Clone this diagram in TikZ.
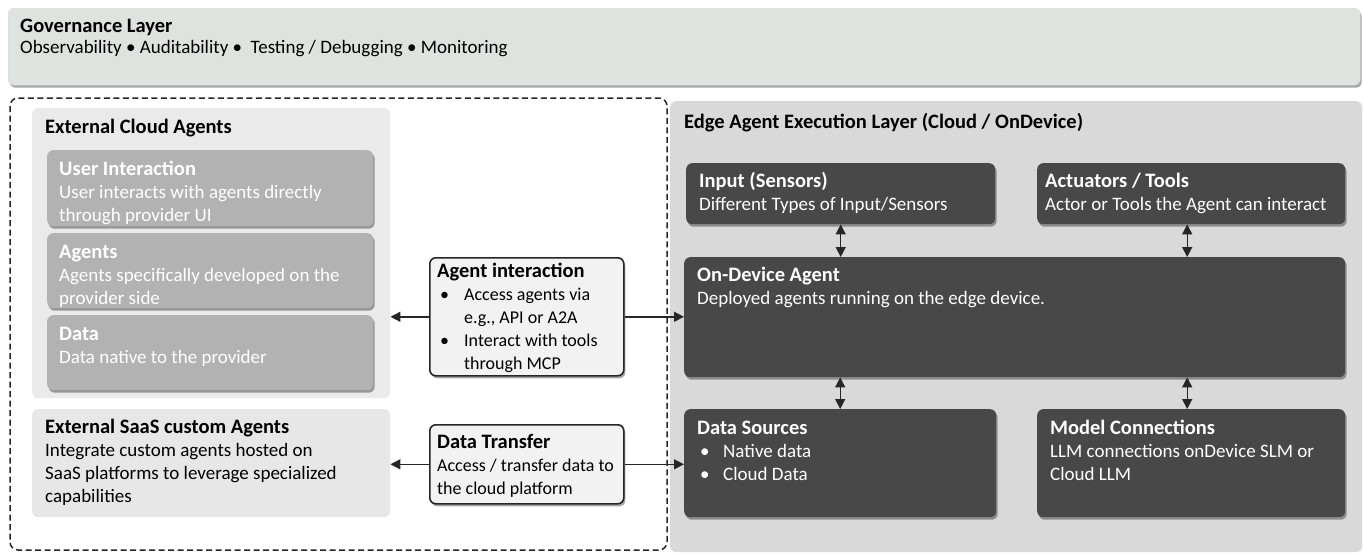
\documentclass[tikz,border=0pt]{standalone}
\usepackage{fontspec}
\setmainfont{Carlito}
\usetikzlibrary{shadows,arrows.meta,positioning}

\definecolor{govfill}{RGB}{223,227,223}
\definecolor{cloudfill}{RGB}{234,234,234}
\definecolor{innerfill}{RGB}{178,178,178}
\definecolor{saasfill}{RGB}{231,231,231}
\definecolor{edgefill}{RGB}{217,217,217}
\definecolor{darkfill}{RGB}{72,72,72}
\definecolor{callfill}{RGB}{242,242,242}
\definecolor{linecol}{RGB}{38,38,38}

\newcommand\boxfont{\fontsize{19}{23}\selectfont}
\newcommand\govfont{\fontsize{19}{21}\selectfont}
\newcommand\calfont{\fontsize{18}{23}\selectfont}
\newcommand\ttl[1]{{\fontsize{20.5}{23}\selectfont\textbf{#1}}}

\tikzset{
  panel/.style={rounded corners=6pt, anchor=north west, inner sep=0pt},
  softshadow/.style={drop shadow={shadow xshift=1.5pt, shadow yshift=-2.5pt, opacity=0.35, fill=black}},
  lightbox/.style={panel, fill=innerfill, softshadow},
  darkbox/.style={panel, fill=darkfill, softshadow},
  callout/.style={panel, fill=callfill, draw=linecol, line width=1.6pt, softshadow},
  txt/.style={anchor=north west, align=left, inner sep=0pt, font=\boxfont, text=black},
  wtxt/.style={txt, text=white},
  oneway/.style={-{Triangle[length=10pt,width=10pt]}, line width=1.4pt, draw=linecol},
  twoway/.style={{Triangle[length=10pt,width=10pt]}-{Triangle[length=10pt,width=10pt]}, line width=1.4pt, draw=linecol},
}

\begin{document}
\begin{tikzpicture}[x=1pt, y=-1pt]

    \useasboundingbox (0,0) rectangle (1363,554);

    % Governance layer
    \node[panel, fill=govfill, draw=black!15, softshadow, minimum width=1352, minimum height=77] (gov) at (8,8) {};
    \node[txt, font=\govfont] (govtxt) at ([shift={(12,10)}]gov.north west)
        {\strut\ttl{Governance Layer}\\Observability • Auditability •\ \ Testing / Debugging • Monitoring};

    % Outer dashed frame round the external side
    \draw[line width=1.5pt, dash pattern=on 6pt off 3.5pt, rounded corners=8pt, linecol] (10,98) rectangle (667,550);

    % External cloud agents
    \node[panel, fill=cloudfill, minimum width=358, minimum height=290] (cloud) at (32,108) {};
    \node[txt] (cloudtxt) at ([shift={(13,9)}]cloud.north west) {\strut\ttl{External Cloud Agents}};

    \node[lightbox, minimum width=326, minimum height=76] (userint) at (47,150) {};
    \node[wtxt] (userinttxt) at ([shift={(12,9)}]userint.north west)
        {\strut\ttl{User Interaction}\\User interacts with agents directly\\through provider UI};

    \node[lightbox, minimum width=326, minimum height=75] (agents) at (47,233) {};
    \node[wtxt] (agentstxt) at ([shift={(12,9)}]agents.north west)
        {\strut\ttl{Agents}\\Agents specifically developed on the\\provider side};

    \node[lightbox, minimum width=326, minimum height=75] (data) at (47,315) {};
    \node[wtxt] (datatxt) at ([shift={(12,9)}]data.north west)
        {\strut\ttl{Data}\\Data native to the provider};

    % External SaaS agents
    \node[panel, fill=saasfill, minimum width=358, minimum height=108] (saas) at (32,409) {};
    \node[txt] (saastxt) at ([shift={(13,8)}]saas.north west)
        {\strut\ttl{External SaaS custom Agents}\\Integrate custom agents hosted on\\SaaS platforms to leverage specialized\\capabilities};

    % Call-outs between the two sides
    \node[callout, minimum width=194, minimum height=118] (agentint) at (429,257) {};
    \node[txt, font=\calfont] (agentinttxt) at ([shift={(8,4)}]agentint.north west)
        {\strut\ttl{Agent interaction}\\
         \hspace*{3pt}\makebox[24pt][l]{•}Access agents via\\
         \hspace*{27pt}e.g., API or A2A\\
         \hspace*{3pt}\makebox[24pt][l]{•}Interact with tools\\
         \hspace*{27pt}through MCP};

    \node[callout, minimum width=194, minimum height=79] (datatr) at (429,424) {};
    \node[txt, font=\calfont] (datatrtxt) at ([shift={(8,8)}]datatr.north west)
        {\strut\ttl{Data Transfer}\\Access / transfer data to\\the cloud platform};

    % Edge agent execution layer
    \node[panel, fill=edgefill, minimum width=692, minimum height=451] (edge) at (670,101) {};
    \node[txt] (edgetxt) at ([shift={(14,11)}]edge.north west)
        {\strut\ttl{Edge Agent Execution Layer (Cloud / OnDevice)}};

    \node[darkbox, minimum width=309, minimum height=61] (input) at (686,163) {};
    \node[wtxt] (inputtxt) at ([shift={(13,8)}]input.north west)
        {\strut\ttl{Input (Sensors)}\\Different Types of Input/Sensors};

    \node[darkbox, minimum width=308, minimum height=61] (act) at (1037,163) {};
    \node[wtxt] (acttxt) at ([shift={(8,8)}]act.north west)
        {\strut\ttl{Actuators / Tools}\\Actor or Tools the Agent can interact};

    \node[darkbox, minimum width=661, minimum height=120] (ondev) at (684,257) {};
    \node[wtxt] (ondevtxt) at ([shift={(13,8)}]ondev.north west)
        {\strut\ttl{On-Device Agent}\\Deployed agents running on the edge device.};

    \node[darkbox, minimum width=312, minimum height=108] (datasrc) at (684,409) {};
    \node[wtxt] (datasrctxt) at ([shift={(13,9)}]datasrc.north west)
        {\strut\ttl{Data Sources}\\
         \hspace*{3pt}\makebox[23pt][l]{•}Native data\\
         \hspace*{3pt}\makebox[23pt][l]{•}Cloud Data};

    \node[darkbox, minimum width=308, minimum height=108] (model) at (1037,409) {};
    \node[wtxt] (modeltxt) at ([shift={(13,9)}]model.north west)
        {\strut\ttl{Model Connections}\\LLM connections onDevice SLM or\\Cloud LLM};

    % Connectors
    \draw[oneway] (agentint.west) -- (agentint.west -| cloud.east);
    \draw[oneway] (agentint.east) -- (agentint.east -| ondev.west);
    \draw[oneway] (datatr.west) -- (datatr.west -| saas.east);
    \draw[oneway] (datatr.east) -- (datatr.east -| datasrc.west);

    \draw[twoway] (input.south) -- (input.south |- ondev.north);
    \draw[twoway] ([xshift=-4pt]act.south) -- ([xshift=-4pt]act.south |- ondev.north);
    \draw[twoway] (datasrc.north) -- (datasrc.north |- ondev.south);
    \draw[twoway] ([xshift=-4pt]model.north) -- ([xshift=-4pt]model.north |- ondev.south);

\end{tikzpicture}
\end{document}
